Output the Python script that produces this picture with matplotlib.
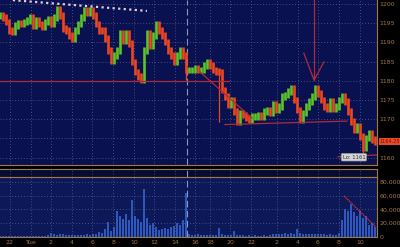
import numpy as np
import matplotlib.pyplot as plt
from matplotlib.ticker import FuncFormatter

# closing prices, one every few minutes
close = [1197.1, 1196.6, 1195.3, 1193.2, 1192.7, 1194.3, 1195.0, 1194.8, 1195.3, 1195.8,
         1196.4, 1194.3, 1195.6, 1194.8, 1194.0, 1195.3, 1196.1, 1195.0, 1196.6, 1198.7,
         1197.1, 1193.7, 1193.2, 1191.7, 1191.1, 1193.2, 1194.8, 1196.4, 1198.4, 1197.7,
         1198.2, 1196.9, 1194.8, 1193.2, 1193.0, 1191.1, 1188.0, 1185.4, 1186.5, 1188.0,
         1192.4, 1190.6, 1192.4, 1189.6, 1184.9, 1182.3, 1181.2, 1180.2, 1188.0, 1192.2,
         1189.1, 1191.7, 1194.8, 1193.2, 1191.9, 1190.1, 1188.0, 1186.5, 1184.9, 1186.7,
         1188.0, 1186.5, 1182.8, 1182.8, 1182.8, 1183.3, 1182.8, 1182.8, 1183.9, 1184.9,
         1183.9, 1182.8, 1182.5, 1182.3, 1177.6, 1175.8, 1173.9, 1175.0, 1171.9, 1169.3,
         1171.6, 1171.1, 1170.3, 1169.8, 1170.6, 1170.6, 1171.1, 1170.6, 1172.1, 1172.4,
         1171.6, 1173.9, 1172.4, 1173.4, 1175.8, 1176.3, 1177.1, 1178.1, 1175.0, 1172.4,
         1169.8, 1171.6, 1173.2, 1174.7, 1176.0, 1178.1, 1176.8, 1175.0, 1173.4, 1172.9,
         1174.7, 1172.9, 1173.4, 1175.0, 1175.8, 1174.5, 1171.9, 1169.3, 1167.2, 1168.0,
         1165.6, 1162.5, 1165.1, 1166.4, 1164.6, 1164.25]

volume = [1500, 1500, 2000, 1500, 1500, 2000, 1500, 1500, 2000, 1500,
          2000, 1500, 2000, 1500, 2000, 2000, 2500, 6000, 4000, 3000,
          5000, 4000, 3000, 3000, 2500, 3000, 3000, 3500, 3000, 4000,
          3000, 5000, 4000, 7000, 6000, 12000, 22000, 9000, 14000, 38000,
          30000, 26000, 33000, 24000, 54000, 30000, 26000, 22000, 70000, 28000,
          18000, 20000, 14000, 10000, 12000, 13000, 11000, 14000, 16000, 20000,
          18000, 25000, 64000, 4000, 3000, 3000, 4000, 3000, 2500, 3000,
          2500, 2500, 3000, 13000, 4000, 3000, 2500, 3000, 9000, 3000,
          2500, 3000, 2000, 2500, 2000, 2500, 2000, 2000, 2500, 2000,
          3000, 5000, 4000, 5000, 4000, 6000, 5000, 6000, 5000, 11000,
          6000, 4000, 5000, 4000, 5000, 4000, 4000, 5000, 4000, 3000,
          4000, 3000, 3000, 6000, 25000, 40000, 38000, 48000, 36000, 30000,
          38000, 28000, 30000, 18000, 20000, 14000]

# long wicks
spike_idx = [62, 73, 121]
spike_low = [1180.2, 1169.3, 1161.2]

tick_pos = [3.3, 10.3, 17, 24, 30.7, 37.7, 44.7, 51.3, 58.3, 65,
            70, 76.7, 83.7, 92.3, 99.3, 106, 113, 120]
tick_lab = ['22', 'Tue', '2', '4', '6', '8', '10', '12', '14', '16',
            '18', '20', '22', '2', '4', '6', '8', '10']
session_break = 62.3
last_price = 1164.25

bg = '#0a1150'
tan = '#a07a45'
green = '#5cc428'
red = '#ee4620'
grid_c = '#56628e'
line_red = '#b02a3a'

fig = plt.figure(figsize=(4, 2.47), dpi=100, facecolor='black')
ax = fig.add_axes([0, 0.332, 0.9425, 0.668], facecolor=bg)
strip = fig.add_axes([0, 0.2834, 0.9425, 0.0324], facecolor='#070b32')
axv = fig.add_axes([0, 0.0405, 0.9425, 0.243], facecolor='#0c1858')

x = np.arange(len(close))
c = np.array(close)
prev = np.r_[c[0], c[:-1]]
up = c >= prev
lo = np.minimum(c, prev) - 0.9
hi = np.maximum(c, prev) + 0.9
ax.vlines(x[~up], lo[~up], hi[~up], color=red, lw=1.9, zorder=3)
ax.vlines(x[up], lo[up], hi[up], color=green, lw=1.9, zorder=3)
ax.vlines(spike_idx, spike_low, c[spike_idx], color=red, lw=0.9, zorder=3)

# trend lines drawn on the chart
ax.plot([4.3, 49], [1201.0, 1198.2], color='#e6ccd4', lw=1.6, ls=(0, (1, 1.5)), zorder=4)
ax.plot([0, 76.3], [1179.9, 1179.9], color=line_red, lw=0.9, zorder=4)
ax.plot([66.7, 84], [1182.3, 1170.3], color=line_red, lw=0.9, zorder=4)
ax.plot([75, 115.7], [1168.6, 1169.5], color=line_red, lw=0.9, zorder=4)
ax.plot([112.7, 126], [1160.2, 1160.7], color=line_red, lw=0.9, zorder=4)
ax.plot([104.7, 104.7], [1201.0, 1180.2], color=line_red, lw=0.9, zorder=4)
ax.plot([101.3, 104.7, 108], [1187.2, 1180.2, 1184.9], color=line_red, lw=0.9, zorder=4)

ax.text(118, 1160.1, 'Lo: 1161', fontsize=3.8, color='#303030', ha='center', va='center',
        bbox=dict(boxstyle='round,pad=0.25', fc='#d4d4d4', ec='#909090', lw=0.5), zorder=5)
ax.text(1.006, last_price, '1164.25', transform=ax.get_yaxis_transform(), fontsize=3.6,
        color='#6a1208', ha='left', va='center', clip_on=False,
        bbox=dict(boxstyle='square,pad=0.15', fc='#ea4a2a', ec='none'))

axv.bar(x, volume, width=0.85, color='#2f58bc', zorder=3)
axv.plot([114.7, 125.3], [59650, 14550], color='#d03040', lw=1.0, ls=(0, (1, 0.6)), zorder=4)

ax.set_xlim(0, 125.7)
ax.set_ylim(1158.07, 1201.04)
axv.set_xlim(0, 125.7)
axv.set_ylim(0, 87300)
strip.set_xlim(0, 125.7)
strip.set_ylim(0, 1)

for a in (ax, strip, axv):
    a.axvline(session_break, color='#8b96b8', lw=0.8, ls=(0, (6, 3)), zorder=2)
    a.set_xticks(tick_pos)
    a.grid(color=grid_c, lw=0.6, ls=(0, (1, 2.5)), zorder=1)
    for s in a.spines.values():
        s.set_color(tan)
        s.set_linewidth(0.8)
    a.spines['left'].set_visible(False)
    a.tick_params(length=0, colors=tan, labelsize=4.5, pad=2)

ax.spines['top'].set_visible(False)
ax.yaxis.tick_right()
ax.set_yticks(range(1160, 1201, 5))
ax.set_yticklabels([str(v) if v != 1165 else '' for v in range(1160, 1201, 5)])
ax.set_xticklabels([])

strip.set_yticks([])
strip.set_xticklabels([])
strip.grid(axis='y', visible=False)

axv.yaxis.tick_right()
axv.set_yticks(range(0, 80001, 20000))
axv.yaxis.set_major_formatter(FuncFormatter(lambda v, p: f'{int(v):,}'))
axv.set_xticklabels(tick_lab)

fig.savefig('out.png', dpi=100, facecolor='black')
